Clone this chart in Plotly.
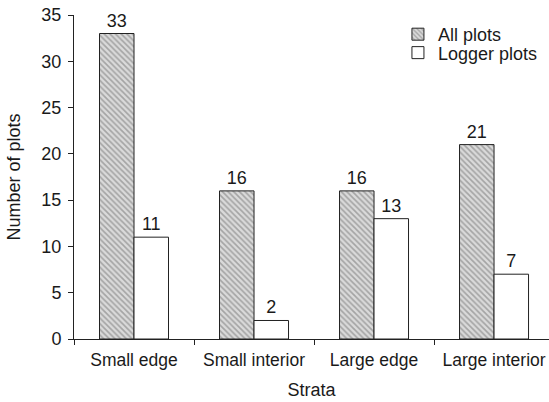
import plotly.graph_objects as go

categories = ["Small edge", "Small interior", "Large edge", "Large interior"]
all_plots = [33, 16, 16, 21]
logger_plots = [11, 2, 13, 7]

FONT = "Liberation Sans, Arial, sans-serif"
TXT = "#1a1a1a"
font = dict(family=FONT, size=18, color=TXT)

fig = go.Figure()
fig.add_trace(go.Bar(
    x=categories, y=all_plots, name="All plots", legend="legend",
    text=[str(v) for v in all_plots], textposition="outside", cliponaxis=False,
    textfont=dict(size=18, color=TXT),
    marker=dict(color="#d4d4d4", line=dict(color="#222", width=1),
                pattern=dict(shape="\\", fgcolor="#6e6e6e", bgcolor="#dadada", size=4, solidity=0.4)),
))
fig.add_trace(go.Bar(
    x=categories, y=logger_plots, name="Logger plots", legend="legend2",
    text=[str(v) for v in logger_plots], textposition="outside", cliponaxis=False,
    textfont=dict(size=18, color=TXT),
    marker=dict(color="white", line=dict(color="#222", width=1)),
))

legend_common = dict(xanchor="left", yanchor="top", bgcolor="rgba(0,0,0,0)",
                     font=dict(size=18, family=FONT, color=TXT), itemwidth=30)

fig.update_layout(
    width=549, height=402,
    margin=dict(l=74, r=0, t=15, b=63, autoexpand=False),
    paper_bgcolor="white", plot_bgcolor="white",
    font=font,
    barmode="group", bargap=0.425, bargroupgap=0,
    showlegend=True,
    legend=dict(x=0.682, y=0.997, **legend_common),
    legend2=dict(x=0.682, y=0.94, **legend_common),
    xaxis=dict(range=[-0.5, 3.458], showline=True, linecolor="#222", linewidth=1,
               ticks="outside", ticklen=5, tickcolor="#222", tickson="boundaries",
               ticklabelstandoff=5,
               showgrid=False, zeroline=False, automargin=False,
               title=dict(text="Strata", font=dict(size=18), standoff=14),
               tickfont=dict(size=17.5)),
    yaxis=dict(range=[0, 35], dtick=5, showline=True, linecolor="#222", linewidth=1,
               ticks="outside", ticklen=5, tickcolor="#222",
               ticklabelstandoff=3,
               showgrid=False, zeroline=False, automargin=True,
               title=dict(text="Number of plots", font=dict(size=18), standoff=16),
               tickfont=dict(size=18)),
)

fig.write_html("out.html", config={"displayModeBar": False},
               post_script="document.body.style.margin='0';")
